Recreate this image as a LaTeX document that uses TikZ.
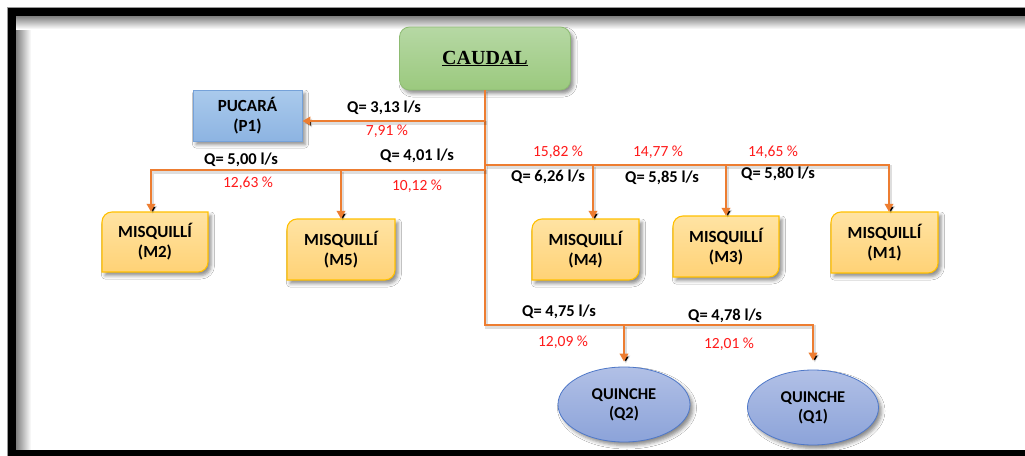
\documentclass[tikz,border=0pt]{standalone}
\usepackage{fontspec}
\setmainfont{Carlito}
\newfontfamily\titlefont{Liberation Serif}
\usetikzlibrary{arrows.meta,shapes.geometric,shadows.blur,calc}

\definecolor{flowc}{HTML}{ED7D31}
\definecolor{pctred}{HTML}{FF1A1A}
\definecolor{greentop}{HTML}{B6D8A4}
\definecolor{greenbot}{HTML}{9BC97E}
\definecolor{greenline}{HTML}{8DBB72}
\definecolor{bluetop}{HTML}{AACAEC}
\definecolor{bluebot}{HTML}{8DB4E2}
\definecolor{blueline}{HTML}{76A2D9}
\definecolor{ambtop}{HTML}{FFE3A3}
\definecolor{ambbot}{HTML}{FFD276}
\definecolor{ambline}{HTML}{FFC000}
\definecolor{elltop}{HTML}{B1C0E6}
\definecolor{ellbot}{HTML}{8CA3D9}
\definecolor{ellline}{HTML}{4F78C8}

\tikzset{
  softshadow/.style={blur shadow={shadow xshift=3pt, shadow yshift=-3.5pt,
      shadow blur radius=3.5pt, shadow opacity=45}},
  flow/.style={draw=flowc, line width=2.2pt,
      preaction={draw=black, draw opacity=0.13, line width=3.2pt,
        transform canvas={shift={(1.8pt,-2pt)}}}},
  flowtip/.style={-{Triangle[width=8.5pt,length=8pt]}},
  qlab/.style={font=\fontsize{16.5}{18}\selectfont\bfseries, inner sep=0pt},
  plab/.style={font=\fontsize{15.5}{18}\selectfont, text=pctred, inner sep=0pt},
  msqshape/.style={draw=ambline, line width=1.1pt, top color=ambtop,
      bottom color=ambbot, softshadow},
  msqtext/.style={align=center, inner sep=0pt,
      font=\fontsize{17}{20}\selectfont\bfseries},
  ellnode/.style={ellipse, draw=ellline, line width=0.8pt, top color=elltop,
      bottom color=ellbot, softshadow, align=center, inner sep=0pt,
      font=\fontsize{16.5}{19}\selectfont\bfseries},
}

% amber box, rounded at top-left and bottom-right: name, x1, y1, x2, y2, text
\newcommand\msqbox[6]{%
  \path[msqshape] (#2,-#5) -- (#2,-#3-10) arc[start angle=180,end angle=90,radius=10]
    -- (#4,-#3) -- (#4,-#5+10) arc[start angle=0,end angle=-90,radius=10] -- cycle;
  \node[msqtext, minimum width=#4-#2, minimum height=#5-#3]
    (#1) at ({(#2+#4)/2},{-(#3+#5)/2}) {#6};
}

\begin{document}
\begin{tikzpicture}[x=1pt,y=1pt]
\useasboundingbox (0,0) rectangle (1025,-455);
\fill[white] (0,0) rectangle (1025,-455);

% frame with its inner shade
\shade[left color=black!50, right color=white] (16,-16) rectangle (31,-450);
\shade[top color=black!50, bottom color=white] (16,-16) rectangle (1025,-29);
\begin{scope}
  \clip (0,0) rectangle (1025,-455);
  \draw[black!40, line width=0.6pt] (7.3,-7.3) rectangle (1050,-470);
  \draw[line width=8pt] (12,-12) rectangle (1050,-454);
\end{scope}

% source
\node[rectangle, rounded corners=10pt, draw=greenline, line width=0.8pt,
      top color=greentop, bottom color=greenbot, softshadow,
      minimum width=171pt, minimum height=63pt,
      font=\titlefont\fontsize{20}{22}\selectfont\bfseries]
      (caudal) at (485,-58.5) {\underline{CAUDAL}};

% destinations
\node[rectangle, draw=blueline, line width=0.8pt, top color=bluetop,
      bottom color=bluebot, softshadow, minimum width=109pt, minimum height=51pt,
      align=center, inner sep=0pt, font=\fontsize{17}{20}\selectfont\bfseries]
      (p1) at (247.5,-115.5) {PUCARÁ\\(P1)};

\msqbox{m2}{102}{212}{208}{272}{MISQUILLÍ\\(M2)}
\msqbox{m5}{287}{219}{395}{280}{MISQUILLÍ\\(M5)}
\msqbox{m4}{532}{219}{639}{280}{MISQUILLÍ\\(M4)}
\msqbox{m3}{673}{216}{779}{277}{MISQUILLÍ\\(M3)}
\msqbox{m1}{831}{212}{938}{273}{MISQUILLÍ\\(M1)}

\node[ellnode, minimum width=132pt, minimum height=75pt] (q2) at (624,-404.5) {QUINCHE\\(Q2)};
\node[ellnode, minimum width=131pt, minimum height=75pt] (q1) at (813,-407.5) {QUINCHE\\(Q1)};

% junctions on the main line
\coordinate (jp) at (485,-121);
\coordinate (jl) at (485,-170);
\coordinate (jr) at (485,-165);
\coordinate (jq) at (485,-325);
\coordinate (xm2) at (151,-170);
\coordinate (xm4) at (593,-165);
\coordinate (xm1) at (889,-165);

% connectors
\draw[flow, flowtip] (caudal.south) -- (jq) -| ([yshift=9pt]q1.north);
\draw[flow, flowtip] (jq -| q2.north) -- ([yshift=5pt]q2.north);
\draw[flow, flowtip] (jp) -- (jp -| p1.east);
\draw[flow, flowtip] (jl) -- (xm2) -- (xm2 |- m2.north);
\draw[flow, flowtip] (jl -| m5.north) -- (m5.north);
\draw[flow, flowtip] (jr) -- (xm1) -- (xm1 |- m1.north);
\draw[flow, flowtip] (xm4) -- (xm4 |- m4.north);
\draw[flow, flowtip] (jr -| m3.north) -- (m3.north);

% flows and shares
\node[qlab] (qp1) at (384,-108) {Q= 3,13 l/s};
\node[plab] (pp1) at (387,-131) {7,91 \%};
\node[qlab] (qm2) at (241,-160) {Q= 5,00 l/s};
\node[plab] (pm2) at (248,-183) {12,63 \%};
\node[qlab] (qm5) at (417,-156) {Q= 4,01 l/s};
\node[plab] (pm5) at (417,-186) {10,12 \%};
\node[plab] (pm4) at (558,-152) {15,82 \%};
\node[plab] (pm3) at (658,-152) {14,77 \%};
\node[plab] (pm1) at (773,-152) {14,65 \%};
\node[qlab] (qm4) at (548,-177) {Q= 6,26 l/s};
\node[qlab] (qm3) at (662,-178) {Q= 5,85 l/s};
\node[qlab] (qm1) at (778,-174) {Q= 5,80 l/s};
\node[qlab] (qq2) at (559,-312) {Q= 4,75 l/s};
\node[plab] (pq2) at (563,-342) {12,09 \%};
\node[qlab] (qq1) at (725,-316) {Q= 4,78 l/s};
\node[plab] (pq1) at (729,-344) {12,01 \%};
\end{tikzpicture}
\end{document}
